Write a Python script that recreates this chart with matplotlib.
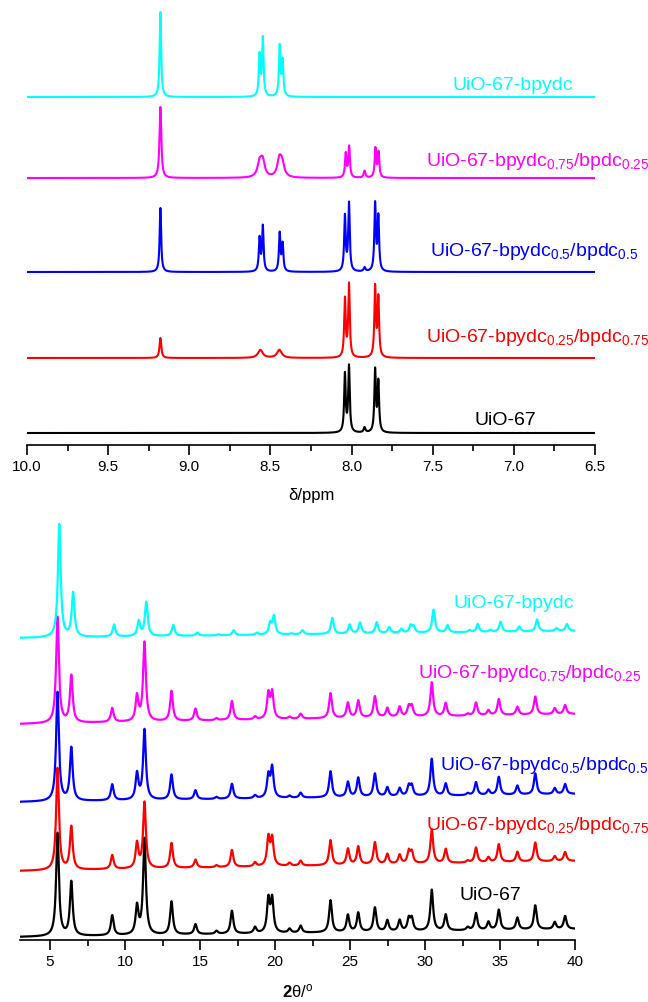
import numpy as np
import matplotlib
matplotlib.use('Agg')
import matplotlib.pyplot as plt
from matplotlib.ticker import MultipleLocator, FormatStrFormatter

plt.rcParams['font.family'] = ['Liberation Sans', 'DejaVu Sans']
plt.rcParams['mathtext.fontset'] = 'custom'
plt.rcParams['mathtext.rm'] = 'Liberation Sans'
plt.rcParams['mathtext.it'] = 'Liberation Sans:italic'
plt.rcParams['mathtext.bf'] = 'Liberation Sans:bold'

# ---- data ----
names = ['UiO-67',
         'UiO-67-bpydc$_{0.25}$/bpdc$_{0.75}$',
         'UiO-67-bpydc$_{0.5}$/bpdc$_{0.5}$',
         'UiO-67-bpydc$_{0.75}$/bpdc$_{0.25}$',
         'UiO-67-bpydc']
colors = ['black', '#ff0000', '#0000ff', '#ff00ff', '#00ffff']

# 1H NMR: peak positions (ppm), heights, widths per sample
nmr_pos = [
    [8.041, 8.016, 7.92, 7.855, 7.835],
    [9.178, 8.562, 8.445, 8.041, 8.016, 7.855, 7.835],
    [9.178, 8.567, 8.547, 8.443, 8.425, 8.041, 8.016, 7.92, 7.855, 7.835],
    [9.178, 8.567, 8.548, 8.445, 8.428, 8.036, 8.015, 7.92, 7.853, 7.834],
    [9.178, 8.567, 8.547, 8.443, 8.425],
]
nmr_h = [
    [58, 66, 5, 62, 50],
    [20, 8, 8, 58, 73, 70, 59],
    [64, 33, 45, 38, 27, 55, 68, 4, 67, 54],
    [71, 14, 16, 17, 13, 24, 31, 7, 29, 25],
    [85, 41, 58, 50, 35],
]
nmr_w = [
    [0.011, 0.011, 0.013, 0.011, 0.011],
    [0.013, 0.035, 0.035, 0.011, 0.011, 0.011, 0.011],
    [0.011, 0.011, 0.011, 0.011, 0.011, 0.011, 0.011, 0.013, 0.011, 0.011],
    [0.013, 0.030, 0.030, 0.030, 0.030, 0.011, 0.011, 0.013, 0.011, 0.011],
    [0.011, 0.011, 0.011, 0.011, 0.011],
]
nmr_offset = [12, 87, 173, 267, 348]

# PXRD: common reflections (2theta) and heights per sample
xrd_pos = [5.5, 6.42, 9.15, 10.8, 11.3, 13.1, 14.7, 16.1, 17.13, 18.67, 19.56,
           19.81, 20.97, 21.71, 23.7, 24.86, 25.55, 26.66, 27.49, 28.31, 28.92,
           29.12, 30.45, 31.38, 32.85, 33.4, 34.23, 34.92, 36.16, 37.35, 38.65, 39.34]
xrd_h = [
    [103, 54, 20, 28, 96, 33, 10, 3, 23, 6, 33, 33, 4, 7, 32, 17, 19, 24, 11, 11, 12, 12, 41, 16, 3, 17, 8, 20, 12, 24, 7, 13],
    [102, 43, 14, 25, 66, 25, 8, 2, 17, 4, 28, 27, 3, 5, 25, 16, 18, 22, 10, 9, 12, 11, 34, 14, 2, 15, 5, 18, 10, 19, 5, 9],
    [109, 53, 16, 26, 70, 25, 9, 2, 15, 3, 22, 30, 2, 5, 26, 15, 19, 23, 9, 8, 10, 10, 37, 12, 2, 13, 5, 18, 9, 21, 6, 10],
    [106, 47, 14, 25, 79, 30, 12, 2, 19, 3, 25, 26, 2, 5, 25, 15, 17, 21, 9, 10, 10, 10, 34, 13, 2, 13, 5, 16, 8, 18, 6, 9],
    [113, 44, 12, 15, 34, 11, 3, 1, 5, 2, 11, 18, 1, 4, 16, 9, 11, 11, 6, 4, 7, 6, 23, 7, 2, 8, 2, 10, 5, 12, 3, 7],
]
xrd_shift = [0.0, 0.0, 0.0, 0.0, 0.12]
xrd_base_start = [3, 69, 138, 216, 302]
xrd_base_end = [11, 79, 146, 226, 309]
xrd_fwhm = 0.22

# label placement (x in data units, y in axis offset units)
nmr_lab_x = [7.24, 7.54, 7.517, 7.54, 6.636]
nmr_lab_y = [21, 104, 190, 280, 356]
nmr_lab_ha = ['left', 'left', 'left', 'left', 'right']
xrd_lab_x = [32.3, 30.07, 31.0, 29.5, 39.93]
xrd_lab_y = [41, 111, 171, 263, 333]
xrd_lab_ha = ['left', 'left', 'left', 'left', 'right']


def lorentz(x, pos, h, w):
    y = np.zeros_like(x)
    for p, a, g in zip(pos, h, w):
        y += a / (1 + ((x - p) / (g / 2)) ** 2)
    return y


fig = plt.figure(figsize=(6.48, 10.03), dpi=100)
ax1 = fig.add_axes([27 / 648, 1 - 446 / 1003, 568 / 648, 446 / 1003])
ax2 = fig.add_axes([20 / 648, 1 - 941 / 1003, 555 / 648, 441 / 1003])

# NMR panel
ppm = np.linspace(10.0, 6.5, 6000)
for i in range(5):
    y = nmr_offset[i] + lorentz(ppm, nmr_pos[i], nmr_h[i], nmr_w[i])
    ax1.plot(ppm, y, color=colors[i], lw=1.5)
    ax1.text(nmr_lab_x[i], nmr_lab_y[i], names[i], color=colors[i], fontsize=14,
             ha=nmr_lab_ha[i], va='baseline', clip_on=False)
ax1.set_xlim(10.0, 6.5)
ax1.set_ylim(0, 446)
ax1.xaxis.set_major_locator(MultipleLocator(0.5))
ax1.xaxis.set_minor_locator(MultipleLocator(0.25))
ax1.xaxis.set_major_formatter(FormatStrFormatter('%.1f'))
ax1.set_xlabel('δ/ppm', fontsize=12, labelpad=10)

# PXRD panel
tt = np.linspace(3, 40, 6000)
for i in range(5):
    pos = np.array(xrd_pos) + xrd_shift[i]
    base = xrd_base_start[i] + (xrd_base_end[i] - xrd_base_start[i]) * (tt - 3) / 37
    y = base + lorentz(tt, pos, xrd_h[i], [xrd_fwhm] * len(pos))
    ax2.plot(tt, y, color=colors[i], lw=1.6)
    ax2.text(xrd_lab_x[i], xrd_lab_y[i], names[i], color=colors[i], fontsize=14,
             ha=xrd_lab_ha[i], va='baseline', clip_on=False)
ax2.set_xlim(3, 40)
ax2.set_ylim(0, 441)
ax2.xaxis.set_major_locator(MultipleLocator(5))
ax2.xaxis.set_minor_locator(MultipleLocator(2.5))
ax2.set_xlabel(r'$\mathbf{2}$θ/$^{\mathrm{o}}$', fontsize=12, labelpad=10)

for ax in (ax1, ax2):
    for s in ('left', 'right', 'top'):
        ax.spines[s].set_visible(False)
    ax.spines['bottom'].set_linewidth(1.2)
    ax.set_yticks([])
    ax.tick_params(axis='x', which='major', length=7, width=1.2, labelsize=11, pad=3)
    ax.tick_params(axis='x', which='minor', length=4, width=1.2)
    ax.patch.set_alpha(0)

fig.savefig('out.png', dpi=100)
